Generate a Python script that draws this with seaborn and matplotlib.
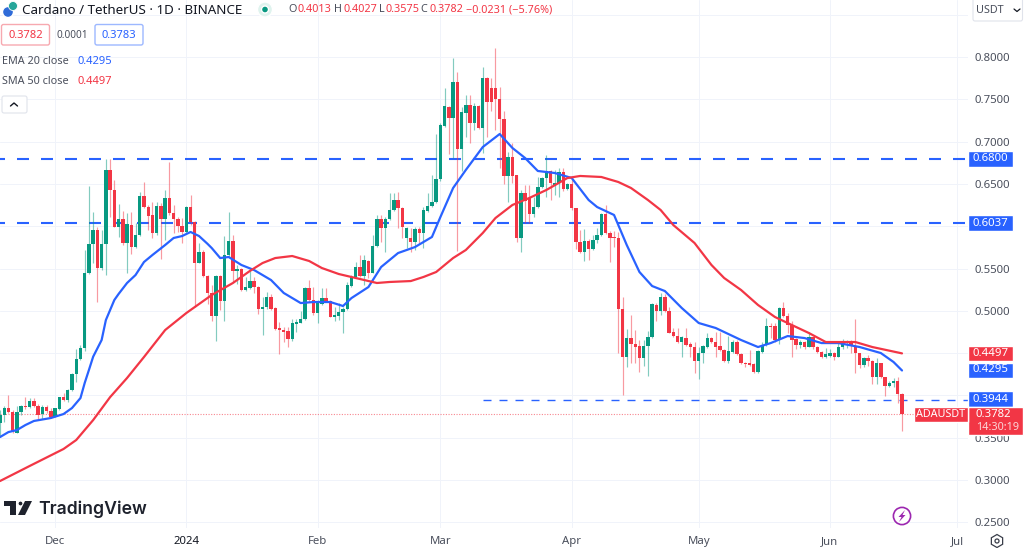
import numpy as np
import pandas as pd
import matplotlib
matplotlib.use("Agg")
import matplotlib.pyplot as plt
from matplotlib.patches import FancyBboxPatch, Circle, Polygon, RegularPolygon, Rectangle
import seaborn as sns

FIRST_DAY = "2023-11-18"
MONTH_ORIGIN = pd.Timestamp("2023-12-01")

open_ = [
 .367,.377,.385,.380,.356,.381,.3875,.386,.394,.3875,
 .378,.386,.382,.375,.384,.398,.3946,.406,.425,.443,
 .4557,.545,.579,.5955,.551,.5786,.667,.643,.5995,.608,
 .58,.6018,.5758,.5896,.6357,.6223,.613,.5916,.6243,.6085,
 .6338,.6152,.6085,.6003,.5936,.6231,.6054,.5569,.5699,.5412,
 .5215,.4939,.5412,.512,.5656,.5821,.5475,.549,.5246,.527,
 .5357,.5286,.5025,.504,.516,.503,.4793,.477,.476,.4663,
 .4845,.486,.49,.5266,.5128,.497,.5081,.5148,.512,.4931,
 .4943,.4982,.5018,.5297,.5404,.5522,.5412,.5589,.5451,.5766,
 .6085,.5975,.6085,.6192,.631,.6212,.5857,.5857,.5818,.5967,
 .5916,.6184,.6243,.6282,.6554,.7185,.7413,.7275,.7701,.6917,
 .7342,.7429,.7224,.7421,.7157,.7756,.7637,.7637,.75,.7271,
 .6593,.6814,.6601,.5857,.6397,.633,.6144,.6231,.6467,.6566,
 .6653,.6475,.6507,.6645,.6436,.6499,.6211,.581,.5691,.5829,
 .5731,.5837,.5896,.6145,.5916,.5869,.5857,.5026,.445,.4675,
 .4608,.4584,.4446,.4584,.4687,.5073,.4994,.5167,.5002,.4746,
 .4702,.4636,.4679,.4604,.4576,.4407,.4501,.4576,.4679,.4632,
 .4584,.4537,.4407,.4509,.4636,.4486,.4387,.4379,.4372,.4277,
 .4517,.4596,.482,.482,.4655,.5029,.4943,.4832,.4663,.4596,
 .4627,.4576,.4687,.4576,.4517,.4458,.4466,.4497,.4458,.4568,
 .4616,.4627,.4588,.4497,.436,.4446,.4411,.4214,.4379,.4214,
 .4111,.4143,.4174,.4013]
close = [
 .377,.385,.381,.3564,.381,.3875,.386,.394,.3875,.377,
 .386,.382,.375,.3847,.3978,.3946,.4064,.4253,.4427,.4557,
 .545,.579,.5955,.551,.5786,.667,.643,.5995,.608,.58,
 .6026,.5758,.5896,.6357,.6223,.6125,.5916,.6243,.6085,.6338,
 .6152,.6085,.6003,.5936,.6231,.6054,.5569,.5699,.5412,.5215,
 .4939,.5412,.512,.5656,.5821,.5475,.549,.5246,.5278,.5357,
 .5278,.5025,.5049,.516,.5025,.478,.4769,.4754,.4663,.4852,
 .4868,.49,.5266,.5128,.497,.5089,.5148,.512,.4931,.495,
 .4982,.5022,.5305,.5404,.5522,.5412,.5601,.5451,.5766,.6085,
 .5975,.6085,.6192,.631,.6212,.5987,.5975,.5818,.5967,.5916,
 .6192,.6243,.6282,.6554,.7196,.7421,.7275,.7701,.6917,.735,
 .7429,.7224,.7421,.7165,.7756,.7472,.7472,.75,.7271,.6593,
 .6814,.6593,.5857,.6397,.6302,.6144,.6231,.6467,.6566,.6653,
 .6507,.6507,.6645,.6436,.6499,.6211,.5813,.5691,.5825,.5731,
 .5837,.5896,.6145,.5916,.5865,.5857,.5026,.445,.4675,.4608,
 .4576,.4446,.4584,.4687,.5077,.4994,.5167,.4998,.4742,.4702,
 .4636,.4687,.4596,.4569,.4403,.4505,.4584,.4679,.4628,.4576,
 .4537,.4407,.4525,.4636,.4486,.4387,.4368,.4364,.4277,.4525,
 .4596,.482,.4805,.4655,.5029,.4943,.4832,.4655,.4596,.4627,
 .4568,.4687,.4568,.4509,.445,.449,.4497,.445,.4576,.4627,
 .4627,.4588,.4497,.436,.4446,.4411,.4214,.4379,.4214,.4111,
 .4151,.4174,.4013,.3782]
high = [
 .383,.387,.400,.383,.387,.3887,.3978,.3966,.3966,.39,
 .3887,.3887,.385,.3856,.3985,.403,.408,.427,.4545,.4596,
 .572,.6475,.6164,.5987,.5955,.6795,.6795,.6546,.6259,.618,
 .6152,.6172,.6034,.64,.6519,.6251,.629,.629,.627,.6428,
 .6763,.6251,.6113,.6093,.6243,.6369,.606,.5798,.5719,.5423,
 .5305,.5423,.5423,.5885,.6172,.5896,.554,.5502,.5404,.5483,
 .5396,.5293,.5167,.5227,.5199,.5041,.4864,.4813,.4813,.49,
 .49,.5002,.5278,.5364,.5286,.5128,.5266,.5266,.5128,.5049,
 .5089,.5041,.5345,.5423,.5581,.566,.566,.5601,.5896,.6133,
 .6133,.6113,.6389,.6389,.6409,.6231,.5995,.5975,.5987,.5995,
 .6231,.6389,.6605,.709,.7216,.763,.7421,.7984,.7827,.7413,
 .7551,.7551,.7452,.7429,.7878,.7768,.7748,.8102,.7649,.7366,
 .6881,.698,.6605,.6428,.6487,.6487,.6349,.6586,.6586,.6842,
 .6664,.6664,.6684,.6684,.6507,.6566,.6211,.5955,.5963,.5845,
 .5896,.5975,.616,.6251,.5948,.5948,.5928,.5167,.4781,.4951,
 .4774,.4655,.4655,.4766,.5089,.5089,.5215,.5199,.5049,.4801,
 .4793,.4702,.4793,.4636,.4636,.4576,.4596,.4742,.4687,.4754,
 .4754,.4545,.4702,.4655,.4655,.4498,.4399,.4537,.4379,.4537,
 .4635,.4911,.4852,.4852,.504,.5108,.497,.4884,.4675,.4655,
 .4647,.4753,.4694,.4584,.4525,.4557,.4545,.4517,.4616,.4663,
 .4655,.4655,.4899,.4505,.4458,.4478,.4419,.4438,.4387,.4222,
 .4174,.4202,.4214,.4027]
low = [
 .351,.369,.379,.3552,.355,.377,.3836,.3847,.3867,.3717,
 .372,.379,.373,.374,.383,.394,.3926,.4057,.416,.442,
 .453,.544,.556,.5108,.548,.542,.6113,.5987,.5869,.5778,
 .5443,.5672,.5739,.5885,.6212,.5955,.5857,.5896,.5609,.5837,
 .6133,.5916,.5936,.5806,.5916,.6015,.5049,.5561,.5404,.5081,
 .488,.4647,.501,.4884,.564,.5345,.5317,.5238,.523,.5254,
 .5215,.4963,.4714,.5018,.501,.4773,.4486,.4635,.4576,.4647,
 .4754,.4852,.4892,.5108,.495,.486,.5069,.5108,.4923,.4884,
 .4892,.4734,.501,.5286,.5396,.5404,.5305,.5384,.5443,.5758,
 .5818,.5699,.6074,.6184,.5975,.5857,.5739,.5699,.5719,.5798,
 .5739,.6172,.6231,.627,.6538,.7177,.6853,.6802,.5711,.6657,
 .7058,.698,.7137,.7145,.6861,.7058,.7362,.7137,.6684,.6499,
 .629,.6507,.5817,.57,.6034,.6034,.6113,.6211,.6448,.6349,
 .631,.6369,.6349,.642,.6428,.6192,.573,.568,.5593,.5601,
 .5719,.5798,.5884,.5904,.5573,.575,.4505,.4005,.4332,.4387,
 .4387,.4281,.4352,.4234,.4675,.4884,.4951,.499,.4734,.4687,
 .4616,.445,.4584,.4458,.4261,.4194,.4387,.4557,.4616,.4458,
 .4529,.4399,.4379,.4498,.4478,.4368,.434,.4348,.4269,.4261,
 .4497,.4584,.4675,.4635,.4608,.4931,.4734,.445,.4545,.4557,
 .4549,.4568,.4545,.4497,.4438,.4438,.4458,.4419,.445,.4545,
 .4557,.4497,.4261,.432,.4332,.4348,.4135,.4135,.4202,.3995,
 .4096,.4103,.3906,.3575]

ema_day = [-13,-11,-9,-7,-5,-1,2,4,6,7,8,9,11,12,14,15,17,19,21,23,26,28,30,32,34,36,37,39,41,44,47,51,54,58,61,65,68,70,74,77,81,85,89,91,94,97,101,105,108,111,114,118,122,126,128,132,135,138,141,144,148,152,156,159,162,166,169,173,177,181,185,190,195,198,200]
ema_value = [.3508,.3567,.3591,.365,.3698,.3733,.378,.3851,.3969,.4147,.4301,.4458,.4655,.4891,.5128,.5199,.5329,.5423,.5577,.566,.5778,.5861,.5884,.5932,.5884,.5792,.5742,.5624,.5636,.5542,.5482,.5364,.5211,.5092,.5104,.5104,.5057,.5151,.5281,.5518,.5683,.5754,.5873,.6109,.6452,.6665,.6936,.709,.6925,.6806,.6653,.6629,.657,.631,.6227,.6133,.5778,.5459,.5293,.5234,.5033,.4856,.4797,.4726,.4655,.4572,.4619,.4702,.4678,.4619,.4619,.4572,.4501,.4395,.4295]
sma_day = [-13,-6,2,5,9,13,17,21,26,31,37,42,46,49,52,56,60,63,67,71,76,79,84,87,90,94,97,101,104,108,112,116,121,124,129,133,136,140,143,146,151,155,158,162,166,170,174,178,182,185,189,193,200]
sma_value = [.2988,.3166,.3367,.3473,.3709,.398,.4206,.4454,.4773,.4974,.5187,.5329,.5471,.5565,.5624,.5648,.5589,.5506,.5435,.5388,.5329,.5341,.5352,.54,.5459,.5624,.5719,.592,.6097,.6251,.6334,.6428,.657,.6594,.6582,.6523,.6452,.631,.6192,.6014,.5802,.5542,.5388,.5246,.5069,.4927,.4832,.4738,.4631,.4631,.4631,.4572,.4497]

level_prices = [0.68, 0.6037]
level_labels = ["0.6800", "0.6037"]
support_price = 0.3944
last_price = 0.3782
price_ticks = [.25,.30,.35,.40,.45,.50,.55,.60,.65,.70,.75,.80,.85]
price_tick_labels = ["0.2500","0.3000","0.3500","","","0.5000","0.5500","","0.6500","0.7000","0.7500","0.8000",""]
month_dates = ["2023-12-01","2024-01-01","2024-02-01","2024-03-01","2024-04-01","2024-05-01","2024-06-01","2024-07-01"]
month_labels = ["Dec","2024","Feb","Mar","Apr","May","Jun","Jul"]

GREEN, RED, BLUE = "#089981", "#f23645", "#2962ff"
GRID, TEXT, TICK = "#f0f3fa", "#131722", "#4a4f5c"
UI_FONT = ["Noto Sans", "DejaVu Sans"]

sns.set_theme(style="white")
plt.rcParams["font.family"] = UI_FONT
W, H = 1024, 548
fig = plt.figure(figsize=(W/100, H/100), dpi=100, facecolor="white")
ax = fig.add_axes([0, 20/H, 968/W, 528/H])

dates = pd.date_range(FIRST_DAY, periods=len(open_), freq="D")
o, c, hi, lo = map(np.array, (open_, close, high, low))
is_up = c >= o
colors = np.where(is_up, GREEN, RED)

ax.set_xlim(pd.Timestamp(FIRST_DAY), pd.Timestamp("2024-07-03 14:00"))
ax.set_ylim(0.2433, 0.8674)
ax.grid(True, color=GRID, lw=0.72)
ax.set_axisbelow(True)

for lvl in level_prices:
    ax.axhline(lvl, color=BLUE, lw=1.5, ls=(3.36, (5.76, 5.76)), dash_capstyle="butt", zorder=1.5)
ax.plot([MONTH_ORIGIN + pd.Timedelta(days=101), dates[-1] + pd.Timedelta(days=15.5)],
        [support_price]*2, color=BLUE, lw=1.0, ls=(0, (5.76, 5.76)), dash_capstyle="butt", zorder=1.5)
ax.plot([dates[0], dates[-1] + pd.Timedelta(days=9)], [last_price]*2, color=RED, lw=0.8, ls=(0, (1, 1.4)), alpha=0.6, zorder=1.5)

ax.vlines(dates, lo, hi, colors=colors, lw=0.85, alpha=0.5, zorder=2)
bottoms = np.minimum(o, c)
heights = np.maximum(np.abs(c - o), 0.0016)
ax.bar(dates, heights, bottom=bottoms, width=0.8, color=colors, linewidth=0, zorder=3)

ema_dates = MONTH_ORIGIN + pd.to_timedelta(ema_day, unit="D")
sma_dates = MONTH_ORIGIN + pd.to_timedelta(sma_day, unit="D")
sns.lineplot(x=ema_dates, y=ema_value, color=BLUE, lw=1.6, ax=ax, zorder=4, errorbar=None, solid_joinstyle="round")
sns.lineplot(x=sma_dates, y=sma_value, color=RED, lw=1.6, ax=ax, zorder=4, errorbar=None, solid_joinstyle="round")

ax.set_xlabel(""); ax.set_ylabel("")
ax.yaxis.tick_right()
ax.set_yticks(price_ticks); ax.set_yticklabels(price_tick_labels)
ax.set_xticks(pd.to_datetime(month_dates)); ax.set_xticklabels(month_labels)
ax.tick_params(axis="y", length=0, pad=5, labelsize=8.2, labelcolor=TICK, labelright=True)
ax.tick_params(axis="x", length=0, pad=6, labelsize=8.2, labelcolor=TICK)
ax.get_xticklabels()[1].set_fontweight("bold")
ax.get_xticklabels()[1].set_color(TEXT)
for s in ax.spines.values():
    s.set_visible(False)

ov = fig.add_axes([0, 0, 1, 1], facecolor="none")
ov.set_xlim(0, W); ov.set_ylim(H, 0); ov.axis("off")

def txt(x, y, s, color=TEXT, size=8.2, ha="left", **kw):
    kw.setdefault("zorder", 8)
    return ov.text(x, y, s, color=color, fontsize=size, ha=ha, va="center", **kw)

def box(x0, y0, x1, y1, fc="white", ec="none", lw=1, r=2):
    ov.add_patch(FancyBboxPatch((x0+r, y0+r), x1-x0-2*r, y1-y0-2*r, boxstyle=f"round,pad={r}",
                                fc=fc, ec=ec, lw=lw, zorder=5, mutation_aspect=1))

# header
ov.add_patch(Circle((8, 12), 5.5, fc="#2f6bd8", zorder=6))
ov.add_patch(Circle((13, 6), 4.5, fc="#26a69a", ec="white", lw=0.6, zorder=6))
txt(22, 10.5, "Cardano / TetherUS · 1D · BINANCE", size=9.65)
ov.add_patch(Circle((265, 9.5), 7.5, fc="#dff3ee", zorder=6))
ov.add_patch(Circle((265, 9.5), 3.5, fc=GREEN, zorder=7))
for xl, xv, lab, val in [(288, 297, "O", "0.4013"), (334, 343, "H", "0.4027"),
                         (379, 386, "L", "0.3575"), (420, 429, "C", "0.3782")]:
    txt(xl, 10, lab, size=7.8, color=TICK)
    txt(xv, 10, val, size=7.8, color=RED)
txt(466, 10, "−0.0231 (−5.76%)", size=7.8, color=RED)

box(1.5, 24.5, 49.5, 45, ec="#f7a9b0", lw=1)
txt(25.5, 35, "0.3782", size=8, color=RED, ha="center")
txt(72.5, 35, "0.0001", size=7.2, color=TICK, ha="center")
box(95, 24.5, 143, 45, ec="#9db8ff", lw=1)
txt(119, 35, "0.3783", size=8, color=BLUE, ha="center")
txt(2, 61, "EMA 20 close", size=7.8, color=TICK)
txt(77, 61, "0.4295", size=8, color=BLUE)
txt(2, 82, "SMA 50 close", size=7.8, color=TICK)
txt(77, 82, "0.4497", size=8, color=RED)
box(2, 96, 27, 113, ec="#e0e3eb", lw=0.8)
ov.plot([10.5, 14, 17.5], [106, 103, 106], color=TEXT, lw=1, zorder=6)

box(973, -4, 1022.5, 21, ec="#e0e3eb", lw=0.8)
txt(976, 10.5, "USDT", size=7.8, color=TICK)
ov.plot([1014, 1017, 1020], [9, 11.5, 9], color=TEXT, lw=0.9, zorder=6)

# axis tags
for y, s in [(158.5, level_labels[0]), (223, level_labels[1])]:
    ov.add_patch(Rectangle((968, y-8), 45, 16, fc=BLUE, zorder=5))
    txt(990.5, y, s, color="white", size=8.2, ha="center")
ov.add_patch(Rectangle((968, 346), 45, 15, fc=RED, zorder=5))
txt(990.5, 353.5, "0.4497", color="white", size=8.2, ha="center")
ov.add_patch(Rectangle((968, 363), 45, 15, fc=BLUE, zorder=5))
txt(990.5, 370, "0.4295", color="white", size=8.2, ha="center")
ov.add_patch(Rectangle((968, 391), 45, 16, fc=BLUE, zorder=5))
txt(990.5, 399, "0.3944", color="white", size=8.2, ha="center")
ov.add_patch(Rectangle((968, 407), 55, 28, fc=RED, zorder=6))
ov.add_patch(Rectangle((914, 407), 54, 15, fc=RED, zorder=6))
txt(941, 414.5, "ADAUSDT", color="white", size=7.8, ha="center")
txt(976, 414.5, "0.3782", color="white", size=8.2)
txt(976, 427.5, "14:30:19", color="#fbd5d8", size=7.8)

# bolt and settings icons
ov.add_patch(Circle((902, 516), 8.6, fc="white", ec="#9c27b0", lw=1.2, zorder=6))
ov.add_patch(Polygon([(905, 510), (898.5, 517), (901.5, 517), (899, 522), (905.5, 515), (902.5, 515)],
                     fc="#9c27b0", ec="none", zorder=7))
ov.add_patch(RegularPolygon((997, 541), 6, radius=6.5, orientation=0, fc="white", ec="#3a3e4a", lw=0.9, zorder=6))
ov.add_patch(Circle((997, 541), 2, fc="white", ec="#3a3e4a", lw=0.9, zorder=7))

# logo
LOGO = "#1e222d"
ov.add_patch(Polygon([(4, 501), (16, 501), (16, 515), (10, 515), (10, 506), (4, 506)], fc=LOGO, ec="none", zorder=6))
ov.add_patch(Circle((20.5, 503.5), 2.6, fc=LOGO, zorder=6))
ov.add_patch(Polygon([(25, 501), (32, 501), (25, 515), (18, 515)], fc=LOGO, ec="none", zorder=6))
ov.text(38, 509, "TradingView", color=LOGO, fontsize=12.7, fontweight="semibold", va="center", ha="left",
        family=["Inter", "DejaVu Sans"], zorder=6)

fig.savefig("out.png", dpi=100, facecolor="white")
